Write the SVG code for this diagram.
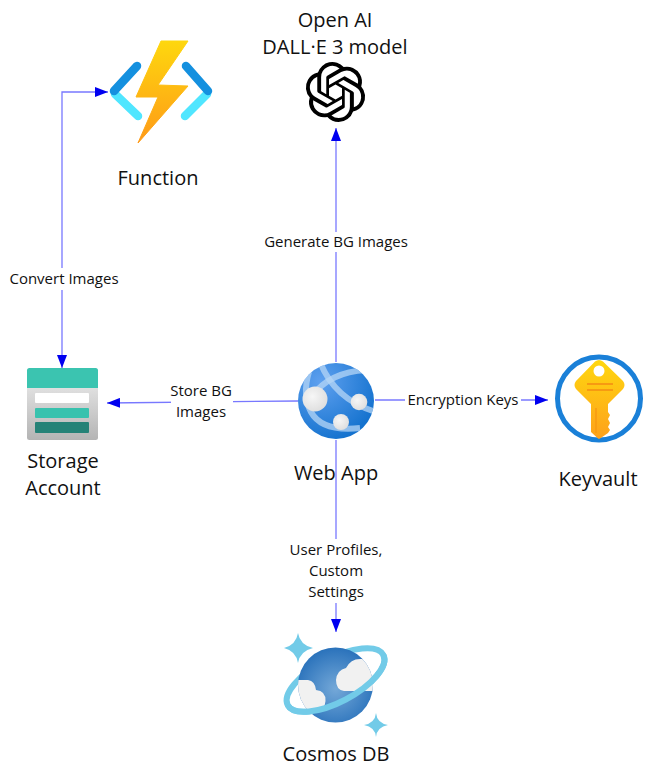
<svg xmlns="http://www.w3.org/2000/svg" width="649" height="779" viewBox="0 0 649 779">
<style>
text{font-family:"Open Sans","Noto Sans","Liberation Sans",sans-serif;fill:#111;text-anchor:middle}
.n{font-size:20px}
.l{font-size:15px}
.c{fill:none;stroke:#7878ff;stroke-width:1.3}
.m{fill:#fff}
</style>
<defs>
<marker id="arr" markerUnits="userSpaceOnUse" markerWidth="13" markerHeight="10" refX="13" refY="5" orient="auto-start-reverse"><path d="M0 0L13 5L0 10Z" fill="#0000f0"/></marker>
<linearGradient id="bolt" x1="0" y1="0" x2="0" y2="1"><stop offset="0" stop-color="#fed70e"/><stop offset="1" stop-color="#fe9a18"/></linearGradient>
<linearGradient id="st" x1="0" y1="0" x2="0" y2="1"><stop offset="0" stop-color="#f0f0f0"/><stop offset="1" stop-color="#b4b4b4"/></linearGradient>
<radialGradient id="web" cx=".3" cy=".25" r=".85"><stop offset="0" stop-color="#5ea0ef"/><stop offset="1" stop-color="#0f6fcc"/></radialGradient>
<radialGradient id="ball" cx=".4" cy=".4" r=".7"><stop offset="0" stop-color="#f6f6f6"/><stop offset="1" stop-color="#dcdcdc"/></radialGradient>
<linearGradient id="key" x1="0" y1="0" x2="0" y2="1"><stop offset="0" stop-color="#ffd70f"/><stop offset="1" stop-color="#fea11b"/></linearGradient>
<radialGradient id="cos" cx=".5" cy=".55" r=".55"><stop offset="0" stop-color="#74a8d8"/><stop offset="1" stop-color="#2a72bb"/></radialGradient>
<clipPath id="sph"><circle cx="335.500" cy="685" r="37.500"/></clipPath>
<clipPath id="wc"><circle cx="336" cy="401" r="38"/></clipPath>
</defs>

<g id="connectors">
<path class="c" d="M62 368V92H108" marker-start="url(#arr)" marker-end="url(#arr)"/>
<path class="c" d="M336 362V128" marker-end="url(#arr)"/>
<path class="c" d="M298 401L107 403" marker-end="url(#arr)"/>
<path class="c" d="M375 400H548" marker-end="url(#arr)"/>
<path class="c" d="M336 440V632" marker-end="url(#arr)"/>
<g id="connector-labels">
<rect class="m" x="6" y="268" width="116" height="22"/>
<text class="l" x="64" y="284">Convert Images</text>
<rect class="m" x="261" y="232" width="150" height="20"/>
<text class="l" x="336" y="247">Generate BG Images</text>
<rect class="m" x="171" y="380" width="62" height="44"/>
<text class="l" x="201" y="396">Store BG</text>
<text class="l" x="201" y="417">Images</text>
<rect class="m" x="405" y="390" width="116" height="20"/>
<text class="l" x="463" y="405">Encryption Keys</text>
<rect class="m" x="287" y="539" width="98" height="64"/>
<text class="l" x="336" y="555">User Profiles,</text>
<text class="l" x="336" y="576">Custom</text>
<text class="l" x="336" y="597">Settings</text>
</g>
</g>

<g id="function">
<path d="M115 94L138 116" stroke="#50e6ff" stroke-width="8.500" stroke-linecap="round" fill="none"/>
<path d="M207 94L185 116" stroke="#50e6ff" stroke-width="8.500" stroke-linecap="round" fill="none"/>
<path d="M137 66L114 91" stroke="#1490df" stroke-width="8.500" stroke-linecap="round" fill="none"/>
<path d="M186 66L208 91" stroke="#1490df" stroke-width="8.500" stroke-linecap="round" fill="none"/>
<path d="M161 41H188L158 85L188 86L138 143L158 97L136 97Z" fill="url(#bolt)" stroke="url(#bolt)" stroke-width="1" stroke-linejoin="round"/>
<text class="n" x="158" y="185">Function</text>
</g>

<g id="openai">
<text class="n" x="335" y="27">Open AI</text>
<text class="n" x="335" y="54">DALL·E 3 model</text>
<path transform="translate(305.500 62) scale(2.5)" fill="#000" d="M22.2819 9.8211a5.9847 5.9847 0 0 0-.5157-4.9108 6.0462 6.0462 0 0 0-6.5098-2.9A6.0651 6.0651 0 0 0 4.9807 4.1818a5.9847 5.9847 0 0 0-3.9977 2.9 6.0462 6.0462 0 0 0 .7427 7.0966 5.98 5.98 0 0 0 .511 4.9107 6.051 6.051 0 0 0 6.5146 2.9001A5.9847 5.9847 0 0 0 13.2599 24a6.0557 6.0557 0 0 0 5.7718-4.2058 5.9894 5.9894 0 0 0 3.9977-2.9001 6.0557 6.0557 0 0 0-.7475-7.0729zm-9.022 12.6081a4.4755 4.4755 0 0 1-2.8764-1.0408l.1419-.0804 4.7783-2.7582a.7948.7948 0 0 0 .3927-.6813v-6.7369l2.02 1.1686a.071.071 0 0 1 .038.052v5.5826a4.504 4.504 0 0 1-4.4945 4.4944zm-9.6607-4.1254a4.4708 4.4708 0 0 1-.5346-3.0137l.142.0852 4.783 2.7582a.7712.7712 0 0 0 .7806 0l5.8428-3.3685v2.3324a.0804.0804 0 0 1-.0332.0615L9.74 19.9502a4.4992 4.4992 0 0 1-6.1408-1.6464zM2.3408 7.8956a4.485 4.485 0 0 1 2.3655-1.9728V11.6a.7664.7664 0 0 0 .3879.6765l5.8144 3.3543-2.0201 1.1685a.0757.0757 0 0 1-.071 0l-4.8303-2.7865A4.504 4.504 0 0 1 2.3408 7.872zm16.5963 3.8558L13.1038 8.364 15.1192 7.2a.0757.0757 0 0 1 .071 0l4.8303 2.7913a4.4944 4.4944 0 0 1-.6765 8.1042v-5.6772a.79.79 0 0 0-.407-.667zm2.0107-3.0231l-.142-.0852-4.7735-2.7818a.7759.7759 0 0 0-.7854 0L9.409 9.2297V6.8974a.0662.0662 0 0 1 .0284-.0615l4.8303-2.7866a4.4992 4.4992 0 0 1 6.6802 4.66zM8.3065 12.863l-2.02-1.1638a.0804.0804 0 0 1-.038-.0567V6.0742a4.4992 4.4992 0 0 1 7.3757-3.4537l-.142.0805L8.704 5.459a.7948.7948 0 0 0-.3927.6813zm1.0976-2.3654l2.602-1.4998 2.6069 1.4998v2.9994l-2.5974 1.4997-2.6067-1.4997Z"/>
</g>

<g id="storage">
<rect x="27" y="368" width="71" height="72" rx="2.500" fill="url(#st)"/>
<path d="M27 388V370.500A2.500 2.500 0 0 1 29.500 368H95.500A2.500 2.500 0 0 1 98 370.500V388Z" fill="#3bc4b0"/>
<rect x="35" y="393" width="54" height="10" rx="1" fill="#fff"/>
<rect x="35" y="408" width="54" height="10" rx="1" fill="#38c2ae"/>
<rect x="35" y="422" width="54" height="11" rx="1" fill="#258277"/>
<text class="n" x="63" y="468">Storage</text>
<text class="n" x="63" y="495">Account</text>
</g>

<g id="webapp">
<circle cx="336" cy="401" r="38" fill="url(#web)"/>
<g clip-path="url(#wc)" fill="none" stroke="#b5d5f5" stroke-opacity=".75" stroke-width="6">
<path d="M320 362Q335 400 376 412"/>
<path d="M312 396Q330 372 366 370"/>
<path d="M309 372Q302 395 311 412Q322 432 360 428"/>
</g>
<circle cx="315" cy="399" r="12.500" fill="url(#ball)"/>
<circle cx="359" cy="402" r="8.300" fill="url(#ball)"/>
<circle cx="341" cy="422" r="8" fill="url(#ball)"/>
<text class="n" x="336" y="480">Web App</text>
</g>

<g id="keyvault">
<circle cx="599" cy="398.500" r="41.500" fill="#fff" stroke="#1a80d8" stroke-width="5"/>
<path d="M595 361.500Q599 358.500 603 361.500L623 381Q626 385 623 389L608 404V412L610 415L608 419L610 423L608 427L610 430L608 433L600 438.500Q599 439 598 438.500L591 432V404L576 389Q573 385 576 381Z" fill="url(#key)"/>
<circle cx="599" cy="371" r="5.500" fill="#fff"/>
<path d="M587 384H613M587 390H613" stroke="#f79a12" stroke-width="2" fill="none"/>
<path d="M596 408V433" stroke="#f79a12" stroke-width="1.500" fill="none"/>
<text class="n" x="598" y="486">Keyvault</text>
</g>

<g id="cosmos">
<ellipse cx="0" cy="0" rx="54" ry="22" transform="translate(335.500 680) rotate(-27.700)" fill="none" stroke="#72cbe8" stroke-width="6"/>
<circle cx="335.500" cy="685" r="37.500" fill="url(#cos)"/>
<g clip-path="url(#sph)" fill="#f1f1f1">
<path d="M298 680H308Q315 681 316 690Q326 691 325.500 701Q325 710 316 710H298Z"/>
<path d="M344 691Q336 690 336 680Q337 670 346 668Q351 658 362 659Q370 661 375 675V691Z"/>
</g>
<path d="M-54 0A54 22 0 0 0 54 0" transform="translate(335.500 680) rotate(-27.700)" fill="none" stroke="#72cbe8" stroke-width="6"/>
<path d="M298 633Q300 645 313 648Q300 651 298 663Q296 651 284 648Q296 645 298 633Z" fill="#72cbe8"/>
<path d="M376 713Q377 723 388 725Q377 727 376 737Q375 727 364 725Q375 723 376 713Z" fill="#72cbe8"/>
<text class="n" x="336" y="761">Cosmos DB</text>
</g>
</svg>
